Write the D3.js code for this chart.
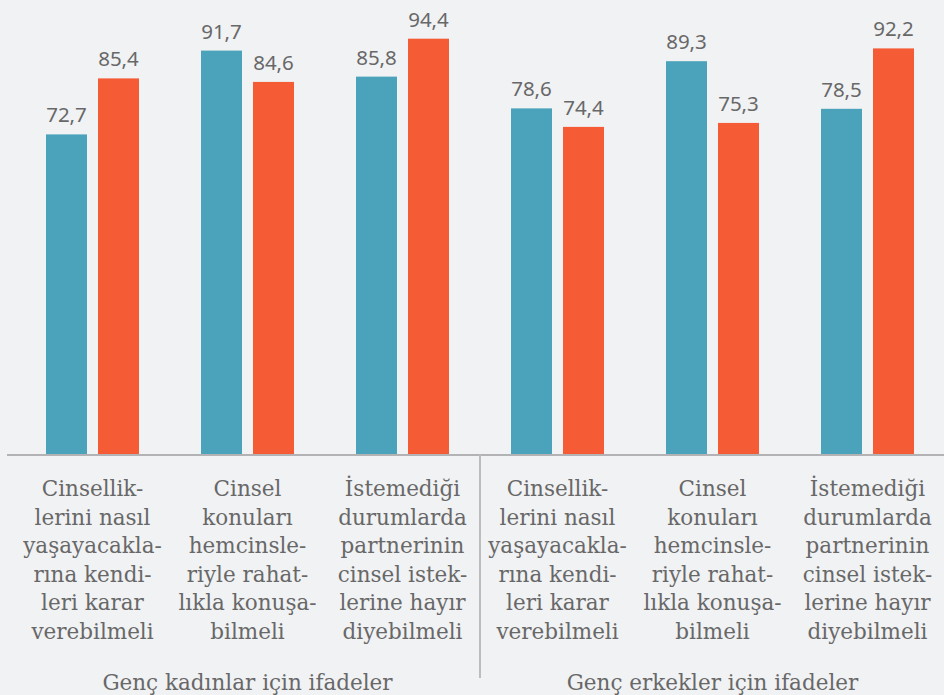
<!DOCTYPE html>
<html>
<head>
<meta charset="utf-8">
<script src="https://cdn.jsdelivr.net/npm/d3@7"></script>
<style>
  html, body { margin: 0; padding: 0; background: #f1f2f4; }
  svg { display: block; }
</style>
</head>
<body>
<div id="chart"></div>
<script>
// chart data
var categories = [
  ["Cinsellik-", "lerini nasıl", "yaşayacakla-", "rına kendi-", "leri karar", "verebilmeli"],
  ["Cinsel", "konuları", "hemcinsle-", "riyle rahat-", "lıkla konuşa-", "bilmeli"],
  ["İstemediği", "durumlarda", "partnerinin", "cinsel istek-", "lerine hayır", "diyebilmeli"],
  ["Cinsellik-", "lerini nasıl", "yaşayacakla-", "rına kendi-", "leri karar", "verebilmeli"],
  ["Cinsel", "konuları", "hemcinsle-", "riyle rahat-", "lıkla konuşa-", "bilmeli"],
  ["İstemediği", "durumlarda", "partnerinin", "cinsel istek-", "lerine hayır", "diyebilmeli"]
];
var groupLabels = ["Genç kadınlar için ifadeler", "Genç erkekler için ifadeler"];
var seriesA = [72.7, 91.7, 85.8, 78.6, 89.3, 78.5];
var seriesB = [85.4, 84.6, 94.4, 74.4, 75.3, 92.2];

var width = 944,
    height = 695,
    baseY = 455;

var colors = { a: "#4aa3ba", b: "#f55b35" };
var textColor = "#686868";

var svg = d3.select("#chart").append("svg")
    .attr("width", width)
    .attr("height", height)
    .style("background", "#f1f2f4");

//Scales
var x0 = d3.scaleBand()
    .domain(d3.range(categories.length))
    .range([15, 945])
    .paddingInner(0);

var x1 = d3.scaleBand()
    .domain(["a", "b"])
    .range([31, 124])
    .paddingInner(11 / 52);

var y = d3.scaleLinear()
    .domain([0, baseY / 4.41])
    .range([baseY, 0]);

var fmt = function(v) { return d3.format(".1f")(v).replace(".", ","); };

var rows = categories.map(function(c, i) {
  return { i: i, a: seriesA[i], b: seriesB[i] };
});

//Bars
var groups = svg.selectAll("g.grp")
    .data(rows)
  .enter().append("g")
    .attr("class", "grp")
    .attr("transform", function(d) { return "translate(" + x0(d.i) + ",0)"; });

groups.selectAll("rect")
    .data(function(d) { return [{k: "a", v: d.a}, {k: "b", v: d.b}]; })
  .enter().append("rect")
    .attr("x", function(d) { return x1(d.k); })
    .attr("y", function(d) { return y(d.v); })
    .attr("width", x1.bandwidth())
    .attr("height", function(d) { return baseY - y(d.v); })
    .style("fill", function(d) { return colors[d.k]; });

groups.selectAll("text.val")
    .data(function(d) { return [{k: "a", v: d.a}, {k: "b", v: d.b}]; })
  .enter().append("text")
    .attr("class", "val")
    .attr("x", function(d) { return x1(d.k) + x1.bandwidth() / 2; })
    .attr("y", function(d) { return y(d.v) - 12; })
    .attr("text-anchor", "middle")
    .style("font-family", "'Noto Sans', sans-serif")
    .style("font-size", "20.5px")
    .style("fill", textColor)
    .text(function(d) { return fmt(d.v); });

//Axis line and separator
svg.append("line")
    .attr("x1", 7).attr("x2", width)
    .attr("y1", baseY).attr("y2", baseY)
    .style("stroke", "#b3b3b5")
    .style("stroke-width", 2);

svg.append("line")
    .attr("x1", 480).attr("x2", 480)
    .attr("y1", baseY).attr("y2", 678)
    .style("stroke", "#bdbdbf")
    .style("stroke-width", 2);

//Category labels
var labels = svg.selectAll("text.cat")
    .data(categories)
  .enter().append("text")
    .attr("class", "cat")
    .attr("text-anchor", "middle")
    .style("font-family", "'DejaVu Serif', serif")
    .style("font-size", "21.5px")
    .style("fill", textColor);

labels.selectAll("tspan")
    .data(function(d, i) { return d.map(function(t) { return {t: t, i: i}; }); })
  .enter().append("tspan")
    .attr("x", function(d) { return x0(d.i) + x0.bandwidth() / 2; })
    .attr("y", function(d, j) { return 496 + j * 28.6; })
    .text(function(d) { return d.t; });

//Group labels
svg.selectAll("text.grplab")
    .data(groupLabels)
  .enter().append("text")
    .attr("class", "grplab")
    .attr("x", function(d, i) { return x0(i * 3 + 1) + x0.bandwidth() / 2; })
    .attr("y", 690)
    .attr("text-anchor", "middle")
    .style("font-family", "'DejaVu Serif', serif")
    .style("font-size", "21.5px")
    .style("fill", textColor)
    .text(function(d) { return d; });
</script>
</body>
</html>
